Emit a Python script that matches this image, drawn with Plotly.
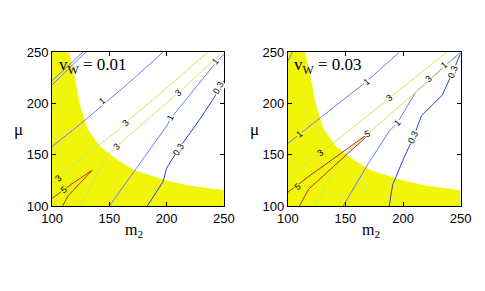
import math
import numpy as np
import plotly.graph_objects as go

# ---------------- data ----------------
# boundary of the yellow (excluded) region, same in both panels
bound_m2 = [115, 121, 124, 131, 142, 156, 172, 197, 219, 250]
bound_mu = [250, 219, 200, 175, 158, 146, 135, 126, 120, 115.5]

# panel A : v_W = 0.01  (contour levels 0.3, 1, 3, 5)
a_pair1_m2 = [100, 127];   a_pair1_mu = [222, 250]
a_pair2_m2 = [100, 129.5]; a_pair2_mu = [218, 250]
a_c1a_m2 = [100, 128, 167, 197];            a_c1a_mu = [158, 183, 220, 250]
a_c1b_m2 = [150, 187, 200, 204, 244, 250];  a_c1b_mu = [100, 158, 178, 186, 241, 248]
a_c03_m2 = [183, 197, 200, 210, 228, 240, 250]
a_c03_mu = [100, 124, 137, 155, 183, 203, 222]
a_c3a_m2 = [100, 108, 158, 164, 200, 236];  a_c3a_mu = [123, 131, 174, 181, 215, 250]
a_c3b_m2 = [124, 150, 156, 210, 248];       a_c3b_mu = [100, 152, 158, 210, 249]
a_c5_m2 = [100, 117, 135, 114, 109];        a_c5_mu = [107.5, 121.5, 135, 110, 100]

a_lab_text = ["1", "3", "3", "3", "3", "1", "1", "0.3", "0.3", "5"]
a_lab_m2 = [144, 106, 164, 156, 210, 203, 243, 210, 245, 110]
a_lab_mu = [202, 127, 181, 158, 210, 186, 241, 155, 215, 116]

# panel B : v_W = 0.03
b_c1c_m2 = [100, 104];                       b_c1c_mu = [241, 250]
b_c1a_m2 = [100, 110, 168, 197];             b_c1a_mu = [161, 170, 221, 250]
b_c1b_m2 = [148, 169, 188, 195, 211, 236, 250]
b_c1b_mu = [100, 140, 173, 181, 211, 236, 250]
b_c03_m2 = [188, 191, 200, 209, 216, 234, 243, 250]
b_c03_mu = [100, 121, 145, 167, 188, 208, 230, 249]
b_c3a_m2 = [100, 128, 139, 188, 238];        b_c3a_mu = [127, 151.5, 161, 205, 250]
b_c3b_m2 = [123.5, 147, 169, 210.5, 249];    b_c3b_mu = [100, 148.5, 170, 210, 248]
b_c5_m2 = [100, 117, 166, 170, 118, 110];    b_c5_mu = [113.5, 128, 167.5, 169.5, 116.5, 100]

b_lab_text = ["1", "1", "3", "3", "3", "1", "1", "0.3", "0.3", "5", "5"]
b_lab_m2 = [110, 168, 128, 188, 222, 195, 236, 209, 243, 108, 169]
b_lab_mu = [170, 221, 151.5, 205, 224, 181, 237, 167, 231, 119, 170]

titles = ["v<sub>W</sub> = 0.01", "v<sub>W</sub> = 0.03"]
ticks = [100, 150, 200, 250]

# ---------------- styling ----------------
W, H = 485, 291
YELLOW = "#f0f50a"
COL = {"0.3": "#2b3de0", "1": "#6a7cff", "3": "#c4ee55", "5": "#b3301c"}
dom_a = [43 / W, 223 / W]
dom_b = [290 / W, 471 / W]
dom_y = [1 - 210 / H, 1 - 47.5 / H]

fig = go.Figure()

panels = [
    ("x", "y", dom_a, [
        (a_pair1_m2, a_pair1_mu, "1"), (a_pair2_m2, a_pair2_mu, "1"),
        (a_c1a_m2, a_c1a_mu, "1"), (a_c1b_m2, a_c1b_mu, "1"),
        (a_c03_m2, a_c03_mu, "0.3"), (a_c3a_m2, a_c3a_mu, "3"),
        (a_c3b_m2, a_c3b_mu, "3"), (a_c5_m2, a_c5_mu, "5")],
     (a_lab_text, a_lab_m2, a_lab_mu)),
    ("x2", "y2", dom_b, [
        (b_c1c_m2, b_c1c_mu, "1"), (b_c1a_m2, b_c1a_mu, "1"),
        (b_c1b_m2, b_c1b_mu, "1"), (b_c03_m2, b_c03_mu, "0.3"),
        (b_c3a_m2, b_c3a_mu, "3"), (b_c3b_m2, b_c3b_mu, "3"),
        (b_c5_m2, b_c5_mu, "5")],
     (b_lab_text, b_lab_m2, b_lab_mu)),
]


def in_yellow(m, u):
    if m <= bound_m2[0]:
        return True
    return u < np.interp(m, np.array(bound_m2, float), np.array(bound_mu, float))


annotations = []
for i, (xa, ya, dom, lines, labs) in enumerate(panels):
    # yellow region
    fig.add_trace(go.Scatter(
        x=[100, 100] + bound_m2 + [250],
        y=[100, 250] + bound_mu + [100],
        mode="lines", fill="toself", fillcolor=YELLOW,
        line=dict(width=0, color=YELLOW), xaxis=xa, yaxis=ya,
        hoverinfo="skip", showlegend=False))
    for (lx, ly, lev) in lines:
        fig.add_trace(go.Scatter(
            x=lx, y=ly, mode="lines", line=dict(color=COL[lev], width=1),
            xaxis=xa, yaxis=ya, showlegend=False, hoverinfo="skip"))
    # pixel scale of this panel
    sx = (dom[1] - dom[0]) * W / 150.0
    sy = (dom_y[1] - dom_y[0]) * H / 150.0
    txt, lm, lu = labs
    for t, m, u in zip(txt, lm, lu):
        best = None
        for (lx, ly, lev) in lines:
            if lev != t:
                continue
            for k in range(len(lx) - 1):
                px0, py0 = lx[k] * sx, ly[k] * sy
                px1, py1 = lx[k + 1] * sx, ly[k + 1] * sy
                qx, qy = m * sx, u * sy
                dx, dy = px1 - px0, py1 - py0
                L2 = dx * dx + dy * dy
                s = max(0, min(1, ((qx - px0) * dx + (qy - py0) * dy) / L2))
                d = math.hypot(px0 + s * dx - qx, py0 + s * dy - qy)
                if best is None or d < best[0]:
                    best = (d, dx, dy)
        _, dx, dy = best
        if dx < 0:
            dx, dy = -dx, -dy
        ang = -math.degrees(math.atan2(dy, dx))
        bg = YELLOW if in_yellow(m, u) else "white"
        annotations.append(dict(
            x=m, y=u, xref=xa, yref=ya, text=t, showarrow=False,
            textangle=ang, bgcolor=bg, borderpad=0,
            font=dict(family="Liberation Sans, Arial", size=9, color="black")))
    # panel title
    annotations.append(dict(
        x=104, y=249, xref=xa, yref=ya, text=titles[i], showarrow=False,
        xanchor="left", yanchor="top",
        font=dict(family="Liberation Serif, Times New Roman", size=17, color="black")))
    # x label
    annotations.append(dict(
        x=(dom[0] + dom[1]) / 2 - 0.008, y=1 - 224 / H, xref="paper", yref="paper",
        text="m<sub>2</sub>", showarrow=False, xanchor="center", yanchor="top",
        font=dict(family="Liberation Serif, Times New Roman", size=16, color="black")))
    # y label
    annotations.append(dict(
        x=(dom[0] * W - 35) / W, y=1 - 129 / H, xref="paper", yref="paper",
        text="μ", showarrow=False, xanchor="center", yanchor="middle",
        font=dict(family="Liberation Serif, Times New Roman", size=17, color="black")))

axis_common = dict(range=[100, 250], tickvals=ticks, ticks="inside", ticklen=4,
                   tickcolor="black", showline=True, linecolor="black", linewidth=1,
                   mirror="ticks", showgrid=False, zeroline=False,
                   tickfont=dict(family="Liberation Sans, Arial", size=13, color="black"))

fig.update_layout(
    width=W, height=H, autosize=False,
    margin=dict(l=0, r=0, t=0, b=0),
    paper_bgcolor="white", plot_bgcolor="white",
    xaxis=dict(domain=dom_a, anchor="y", **axis_common),
    yaxis=dict(domain=dom_y, anchor="x", **axis_common),
    xaxis2=dict(domain=dom_b, anchor="y2", **axis_common),
    yaxis2=dict(domain=dom_y, anchor="x2", **axis_common),
    annotations=annotations,
    showlegend=False,
)

fig.write_html("out.html",
               config={"displayModeBar": False},
               post_script="document.body.style.margin='0';document.body.style.overflow='hidden';")
